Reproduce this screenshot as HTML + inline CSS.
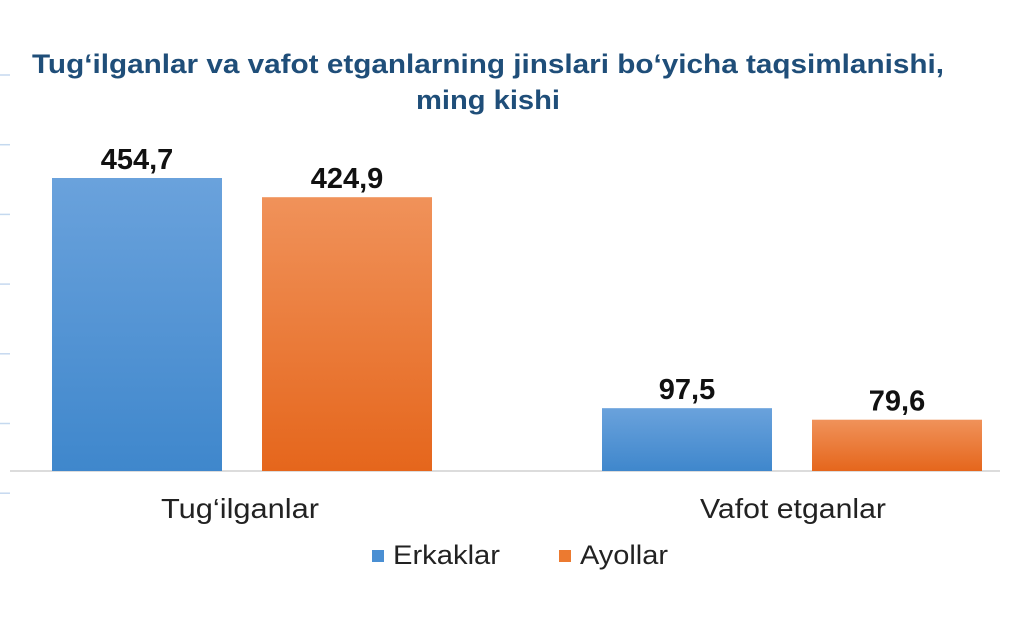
<!DOCTYPE html>
<html><head><meta charset="utf-8"><style>
body{margin:0;background:#fff;width:1024px;height:623px;overflow:hidden;font-family:"Liberation Sans",sans-serif}
</style></head><body>
<svg width="1024" height="623">
<defs>
<linearGradient id="gb" x1="0" y1="0" x2="0" y2="1"><stop offset="0" stop-color="#6aa2dc"/><stop offset="1" stop-color="#3f87cc"/></linearGradient>
<linearGradient id="go" x1="0" y1="0" x2="0" y2="1"><stop offset="0" stop-color="#f0925a"/><stop offset="1" stop-color="#e5661c"/></linearGradient>
</defs>
<text x="488" y="73" text-anchor="middle" font-size="27" font-weight="bold" fill="#1f4e79" textLength="912" lengthAdjust="spacingAndGlyphs">Tug‘ilganlar va vafot etganlarning jinslari bo‘yicha taqsimlanishi,</text>
<text x="488" y="109" text-anchor="middle" font-size="27" font-weight="bold" fill="#1f4e79" textLength="144" lengthAdjust="spacingAndGlyphs">ming kishi</text>
<g id="ticks"></g>
<line x1="10" y1="471" x2="1000" y2="471" stroke="#d0d0d0" stroke-width="1.5"/>
<g id="bars"></g>
<text x="240" y="518" text-anchor="middle" font-size="28" fill="#222" textLength="158" lengthAdjust="spacingAndGlyphs">Tug‘ilganlar</text>
<text x="793" y="518" text-anchor="middle" font-size="28" fill="#222" textLength="186" lengthAdjust="spacingAndGlyphs">Vafot etganlar</text>
<rect x="372" y="550" width="12" height="12" fill="#4a8fd3"/>
<text x="393" y="564" font-size="27" fill="#222" textLength="107" lengthAdjust="spacingAndGlyphs">Erkaklar</text>
<rect x="559" y="550" width="12" height="12" fill="#ec7a30"/>
<text x="580" y="564" font-size="27" fill="#222" textLength="88" lengthAdjust="spacingAndGlyphs">Ayollar</text>
</svg>
<script>
const categories=["Tug‘ilganlar","Vafot etganlar"];
const erkaklar=[454.7,97.5];
const ayollar=[424.9,79.6];
const labelsE=["454,7","97,5"];
const labelsA=["424,9","79,6"];
const ns="http://www.w3.org/2000/svg";
const base=471, k=293/454.7;
const y=v=>base-v*k;
const tg=document.getElementById('ticks');
for(let t=75;t<=500;t+=69.7){
 const l=document.createElementNS(ns,'line');
 l.setAttribute('x1',0);l.setAttribute('x2',10);l.setAttribute('y1',t);l.setAttribute('y2',t);
 l.setAttribute('stroke','#c5d9ef');l.setAttribute('stroke-width',1.5);
 
 
 tg.appendChild(l);
}
const g=document.getElementById('bars');
const groupX=[52,602];
function bar(x,v,fill,lab,name){
 const r=document.createElementNS(ns,'rect');
 r.setAttribute('x',x);r.setAttribute('width',170);r.setAttribute('y',y(v));r.setAttribute('height',base-y(v));r.setAttribute('fill',fill);
 
 
 g.appendChild(r);
 const t=document.createElementNS(ns,'text');
 t.setAttribute('x',x+85);t.setAttribute('y',y(v)-9);t.setAttribute('text-anchor','middle');
 t.setAttribute('font-size','29');t.setAttribute('font-weight','bold');t.setAttribute('fill','#111');
 t.textContent=lab;
 
 
 g.appendChild(t);
}
categories.forEach((c,i)=>{
 bar(groupX[i],erkaklar[i],'url(#gb)',labelsE[i],'bar-erkaklar-'+i);
 bar(groupX[i]+210,ayollar[i],'url(#go)',labelsA[i],'bar-ayollar-'+i);
});
</script>
</body></html>
